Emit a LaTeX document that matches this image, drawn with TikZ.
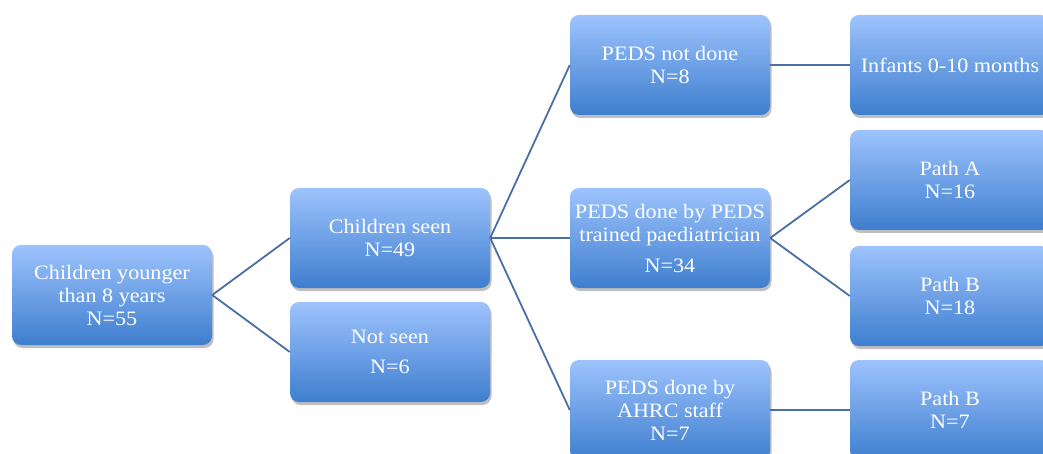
\documentclass[tikz,border=0pt]{standalone}
\usepackage{fontspec}
\setmainfont{Liberation Serif}[FakeStretch=1.08]
\usetikzlibrary{shadows}
\definecolor{boxtop}{RGB}{157,195,253}
\definecolor{boxbot}{RGB}{62,126,206}
\definecolor{linkc}{RGB}{74,111,165}
\tikzset{
  stepbox/.style={rectangle, rounded corners=9pt, minimum width=200pt, minimum height=100pt,
    top color=boxtop, bottom color=boxbot, draw=none, text=white, align=center,
    inner sep=2pt, font=\fontsize{20.5}{23}\selectfont,
    drop shadow={shadow xshift=1.5pt, shadow yshift=-3pt, fill=black, opacity=0.25}},
  link/.style={draw=linkc, line width=1.8pt}
}
\begin{document}
\begin{tikzpicture}[x=1pt,y=-1pt]
\useasboundingbox (0,0) rectangle (1043,454);
\clip (0,0) rectangle (1043,454);
\node[stepbox] (b1) at (112,295) {Children younger\\than 8 years\\N=55};
\node[stepbox] (b2) at (390,238) {Children seen\\N=49};
\node[stepbox] (b3) at (390,352) {Not seen\\[7pt]N=6};
\node[stepbox] (b4) at (670,65) {PEDS not done\\N=8};
\node[stepbox] (b5) at (670,238) {PEDS done by PEDS\\trained paediatrician\\[8pt]N=34};
\node[stepbox] (b6) at (670,410) {PEDS done by\\AHRC staff\\N=7};
\node[stepbox] (b7) at (950,65) {Infants 0-10 months};
\node[stepbox] (b8) at (950,180) {Path A\\N=16};
\node[stepbox] (b9) at (950,296) {Path B\\N=18};
\node[stepbox] (b10) at (950,410) {Path B\\N=7};
\draw[link] (b1.east) -- (b2.west);
\draw[link] (b1.east) -- (b3.west);
\draw[link] (b2.east) -- (b4.west);
\draw[link] (b2.east) -- (b5.west);
\draw[link] (b2.east) -- (b6.west);
\draw[link] (b4.east) -- (b7.west);
\draw[link] (b5.east) -- (b8.west);
\draw[link] (b5.east) -- (b9.west);
\draw[link] (b6.east) -- (b10.west);
\end{tikzpicture}
\end{document}
